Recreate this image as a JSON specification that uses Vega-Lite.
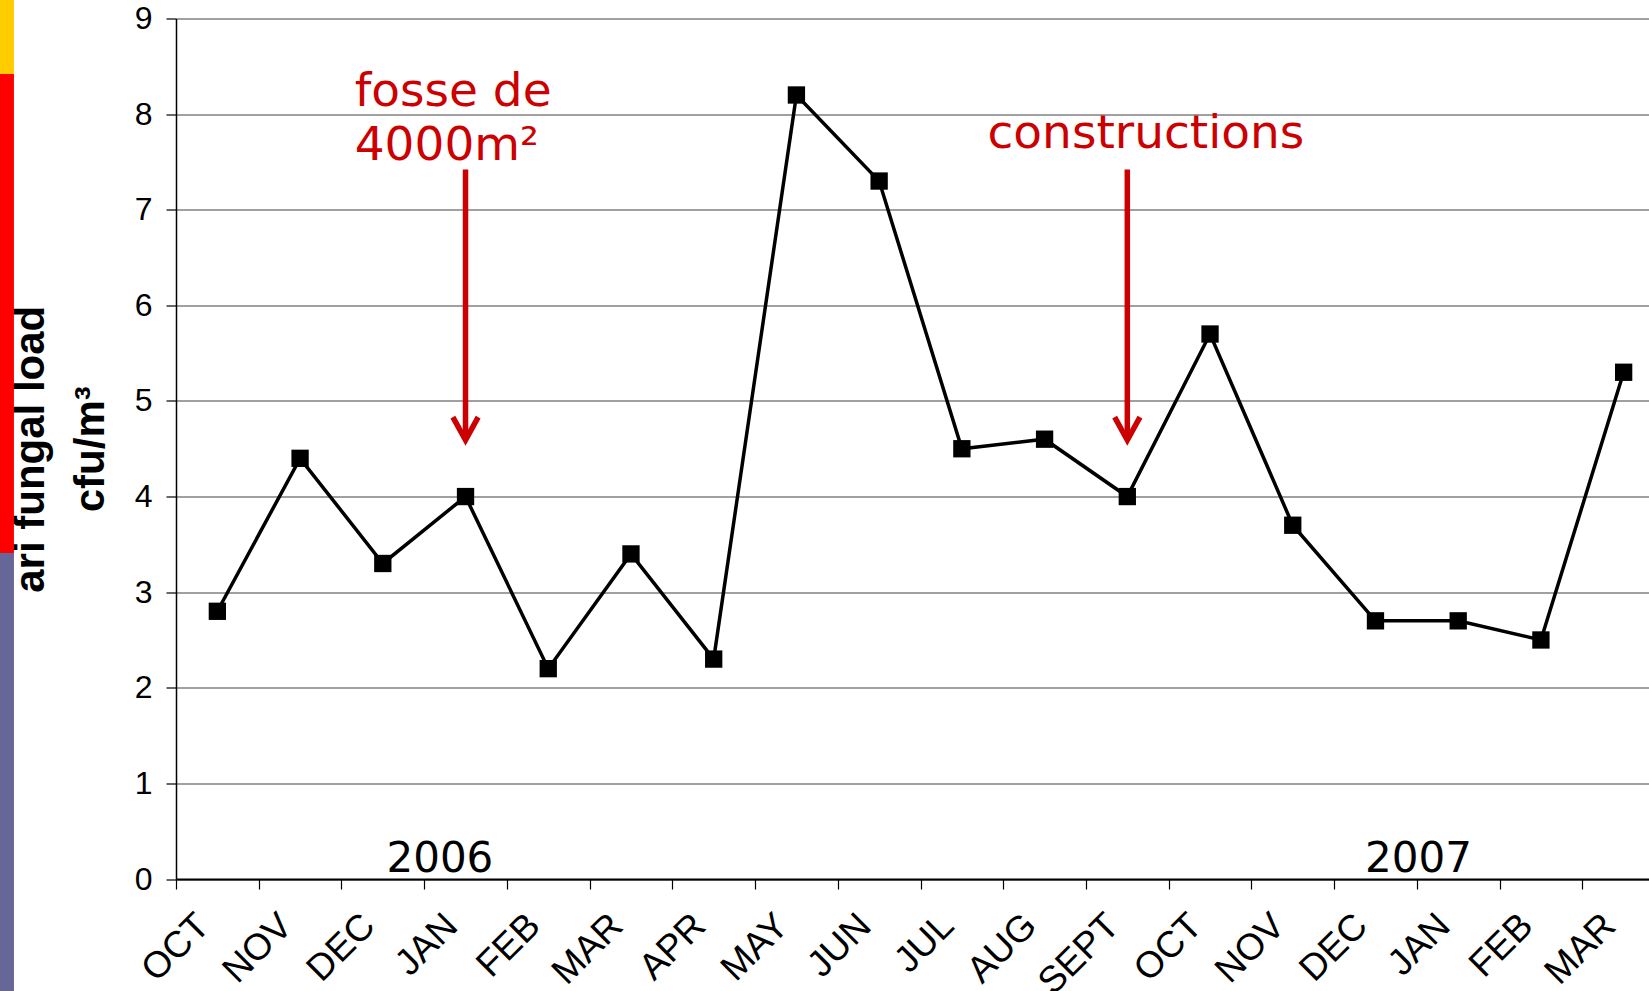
{
  "$schema": "https://vega.github.io/schema/vega-lite/v6.json",
  "autosize": {"type": "none"},
  "width": 1473,
  "height": 860.5,
  "padding": {"left": 176, "top": 18.5, "right": 0, "bottom": 112},
  "background": "white",
  "config": {
    "view": {"stroke": null},
    "axisY": {
      "titleFont": "Liberation Sans",
      "titleFontWeight": "bold",
      "titleFontSize": 42,
      "titleColor": "black",
      "titleLineHeight": 60,
      "titlePadding": 22,
      "labelFont": "Liberation Sans",
      "labelFontSize": 32,
      "labelColor": "black",
      "labelPadding": 14,
      "tickSize": 10,
      "tickColor": "black",
      "tickWidth": 1.2,
      "domainColor": "black",
      "domainWidth": 1.5,
      "grid": true,
      "gridColor": "#808080",
      "gridWidth": 1.3
    }
  },
  "datasets": {
    "load": [
      {"period": "OCT 2005", "v": 2.8},
      {"period": "NOV 2005", "v": 4.4},
      {"period": "DEC 2005", "v": 3.3},
      {"period": "JAN 2006", "v": 4.0},
      {"period": "FEB 2006", "v": 2.2},
      {"period": "MAR 2006", "v": 3.4},
      {"period": "APR 2006", "v": 2.3},
      {"period": "MAY 2006", "v": 8.2},
      {"period": "JUN 2006", "v": 7.3},
      {"period": "JUL 2006", "v": 4.5},
      {"period": "AUG 2006", "v": 4.6},
      {"period": "SEPT 2006", "v": 4.0},
      {"period": "OCT 2006", "v": 5.7},
      {"period": "NOV 2006", "v": 3.7},
      {"period": "DEC 2006", "v": 2.7},
      {"period": "JAN 2007", "v": 2.7},
      {"period": "FEB 2007", "v": 2.5},
      {"period": "MAR 2007", "v": 5.3}
    ],
    "bar": [
      {"seg": "top", "x0": -2.128, "x1": -1.959, "y0": 8.42, "y1": 9.4},
      {"seg": "mid", "x0": -2.128, "x1": -1.959, "y0": 3.41, "y1": 8.42},
      {"seg": "low", "x0": -2.128, "x1": -1.959, "y0": -1.3, "y1": 3.41}
    ],
    "notes1": [
      {"period": "DEC 2005", "y": 8.09, "label": "fosse de"},
      {"period": "DEC 2005", "y": 7.52, "label": "4000m²"}
    ],
    "notes2": [
      {"period": "JUL 2006", "y": 7.65, "label": "constructions"}
    ],
    "arrows": [
      {"period": "JAN 2006", "top": 7.42, "tip": 4.59, "tail": 4.63},
      {"period": "SEPT 2006", "top": 7.42, "tip": 4.59, "tail": 4.63}
    ],
    "year1": [{"period": "JAN 2006", "label": "2006", "y": 0.07}],
    "year2": [{"period": "JAN 2007", "label": "2007", "y": 0.07}]
  },
  "resolve": {"scale": {"x": "independent"}},
  "layer": [
    {
      "data": {"name": "bar"},
      "mark": {"type": "rect"},
      "encoding": {
        "x": {"field": "x0", "type": "quantitative", "scale": {"domain": [0, 18], "range": [0, 1489], "nice": false, "zero": false}, "axis": null},
        "x2": {"field": "x1"},
        "y": {"field": "y0", "type": "quantitative", "scale": {"domain": [0, 9], "nice": false, "zero": false}, "axis": {"values": [0, 1, 2, 3, 4, 5, 6, 7, 8, 9], "format": "d", "labelFontSize": 32, "title": ["ari fungal load", "cfu/m³"]}},
        "y2": {"field": "y1"},
        "color": {"field": "seg", "type": "nominal", "scale": {"domain": ["top", "mid", "low"], "range": ["#FFCC00", "#FF0000", "#666699"]}, "legend": null}
      }
    },
    {
      "layer": [
        {
          "data": {"name": "load"},
          "mark": {"type": "line", "color": "black", "strokeWidth": 3.5, "point": {"shape": "square", "size": 300, "color": "black", "filled": true, "opacity": 1}},
          "encoding": {
            "x": {
              "field": "period", "type": "ordinal", "bandPosition": 0.5,
              "scale": {"type": "band", "domain": ["OCT 2005","NOV 2005","DEC 2005","JAN 2006","FEB 2006","MAR 2006","APR 2006","MAY 2006","JUN 2006","JUL 2006","AUG 2006","SEPT 2006","OCT 2006","NOV 2006","DEC 2006","JAN 2007","FEB 2007","MAR 2007"], "range": [0, 1489], "paddingInner": 0, "paddingOuter": 0},
              "axis": {
                "title": null,
                "labelExpr": "isValid(datum.value) ? split(datum.value, ' ')[0] : ''",
                "labelAngle": -45,
                "labelAlign": "right",
                "labelBaseline": "top",
                "labelFont": "Liberation Sans",
                "labelFontSize": 37,
                "labelColor": "black",
                "labelPadding": 18,
                "labelOffset": -27,
                "tickBand": "extent",
                "tickSize": 10,
                "tickColor": "black",
                "tickWidth": 1.2,
                "domainColor": "black",
                "domainWidth": 2,
                "grid": false
              }
            },
            "y": {
              "field": "v", "type": "quantitative",
              "scale": {"domain": [0, 9], "nice": false, "zero": false},
              "axis": {"values": [0, 1, 2, 3, 4, 5, 6, 7, 8, 9], "format": "d", "labelFontSize": 32, "title": ["ari fungal load", "cfu/m³"]}
            }
          }
        },
        {
          "data": {"name": "notes1"},
          "mark": {"type": "text", "font": "DejaVu Sans", "fontSize": 47, "color": "#CC0000", "align": "left", "baseline": "alphabetic"},
          "encoding": {
            "x": {"field": "period", "type": "ordinal", "bandPosition": 0.16, "scale": {"type": "band", "domain": ["OCT 2005","NOV 2005","DEC 2005","JAN 2006","FEB 2006","MAR 2006","APR 2006","MAY 2006","JUN 2006","JUL 2006","AUG 2006","SEPT 2006","OCT 2006","NOV 2006","DEC 2006","JAN 2007","FEB 2007","MAR 2007"], "range": [0, 1489], "paddingInner": 0, "paddingOuter": 0}},
            "y": {"field": "y", "type": "quantitative", "scale": {"domain": [0, 9], "nice": false, "zero": false}},
            "text": {"field": "label", "type": "nominal"}
          }
        },
        {
          "data": {"name": "notes2"},
          "mark": {"type": "text", "font": "DejaVu Sans", "fontSize": 47, "color": "#CC0000", "align": "left", "baseline": "alphabetic"},
          "encoding": {
            "x": {"field": "period", "type": "ordinal", "bandPosition": 0.81, "scale": {"type": "band", "domain": ["OCT 2005","NOV 2005","DEC 2005","JAN 2006","FEB 2006","MAR 2006","APR 2006","MAY 2006","JUN 2006","JUL 2006","AUG 2006","SEPT 2006","OCT 2006","NOV 2006","DEC 2006","JAN 2007","FEB 2007","MAR 2007"], "range": [0, 1489], "paddingInner": 0, "paddingOuter": 0}},
            "y": {"field": "y", "type": "quantitative", "scale": {"domain": [0, 9], "nice": false, "zero": false}},
            "text": {"field": "label", "type": "nominal"}
          }
        },
        {
          "data": {"name": "arrows"},
          "mark": {"type": "rule", "color": "#CC0000", "strokeWidth": 5.5},
          "encoding": {
            "x": {"field": "period", "type": "ordinal", "bandPosition": 0.5, "scale": {"type": "band", "domain": ["OCT 2005","NOV 2005","DEC 2005","JAN 2006","FEB 2006","MAR 2006","APR 2006","MAY 2006","JUN 2006","JUL 2006","AUG 2006","SEPT 2006","OCT 2006","NOV 2006","DEC 2006","JAN 2007","FEB 2007","MAR 2007"], "range": [0, 1489], "paddingInner": 0, "paddingOuter": 0}},
            "y": {"field": "top", "type": "quantitative", "scale": {"domain": [0, 9], "nice": false, "zero": false}},
            "y2": {"field": "tail"}
          }
        },
        {
          "data": {"name": "arrows"},
          "mark": {"type": "point", "shape": "M -0.55 -1 L 0 0 L 0.55 -1", "size": 2116, "filled": false, "stroke": "#CC0000", "strokeWidth": 5.5, "opacity": 1, "strokeJoin": "miter"},
          "encoding": {
            "x": {"field": "period", "type": "ordinal", "bandPosition": 0.5, "scale": {"type": "band", "domain": ["OCT 2005","NOV 2005","DEC 2005","JAN 2006","FEB 2006","MAR 2006","APR 2006","MAY 2006","JUN 2006","JUL 2006","AUG 2006","SEPT 2006","OCT 2006","NOV 2006","DEC 2006","JAN 2007","FEB 2007","MAR 2007"], "range": [0, 1489], "paddingInner": 0, "paddingOuter": 0}},
            "y": {"field": "tip", "type": "quantitative", "scale": {"domain": [0, 9], "nice": false, "zero": false}}
          }
        },
        {
          "data": {"name": "year1"},
          "mark": {"type": "text", "font": "DejaVu Sans", "fontSize": 42, "color": "black", "align": "center", "baseline": "alphabetic"},
          "encoding": {
            "x": {"field": "period", "type": "ordinal", "bandPosition": 0.19, "scale": {"type": "band", "domain": ["OCT 2005","NOV 2005","DEC 2005","JAN 2006","FEB 2006","MAR 2006","APR 2006","MAY 2006","JUN 2006","JUL 2006","AUG 2006","SEPT 2006","OCT 2006","NOV 2006","DEC 2006","JAN 2007","FEB 2007","MAR 2007"], "range": [0, 1489], "paddingInner": 0, "paddingOuter": 0}},
            "y": {"field": "y", "type": "quantitative", "scale": {"domain": [0, 9], "nice": false, "zero": false}},
            "text": {"field": "label", "type": "nominal"}
          }
        },
        {
          "data": {"name": "year2"},
          "mark": {"type": "text", "font": "DejaVu Sans", "fontSize": 42, "color": "black", "align": "center", "baseline": "alphabetic"},
          "encoding": {
            "x": {"field": "period", "type": "ordinal", "bandPosition": 0.02, "scale": {"type": "band", "domain": ["OCT 2005","NOV 2005","DEC 2005","JAN 2006","FEB 2006","MAR 2006","APR 2006","MAY 2006","JUN 2006","JUL 2006","AUG 2006","SEPT 2006","OCT 2006","NOV 2006","DEC 2006","JAN 2007","FEB 2007","MAR 2007"], "range": [0, 1489], "paddingInner": 0, "paddingOuter": 0}},
            "y": {"field": "y", "type": "quantitative", "scale": {"domain": [0, 9], "nice": false, "zero": false}},
            "text": {"field": "label", "type": "nominal"}
          }
        }
      ]
    }
  ]
}
